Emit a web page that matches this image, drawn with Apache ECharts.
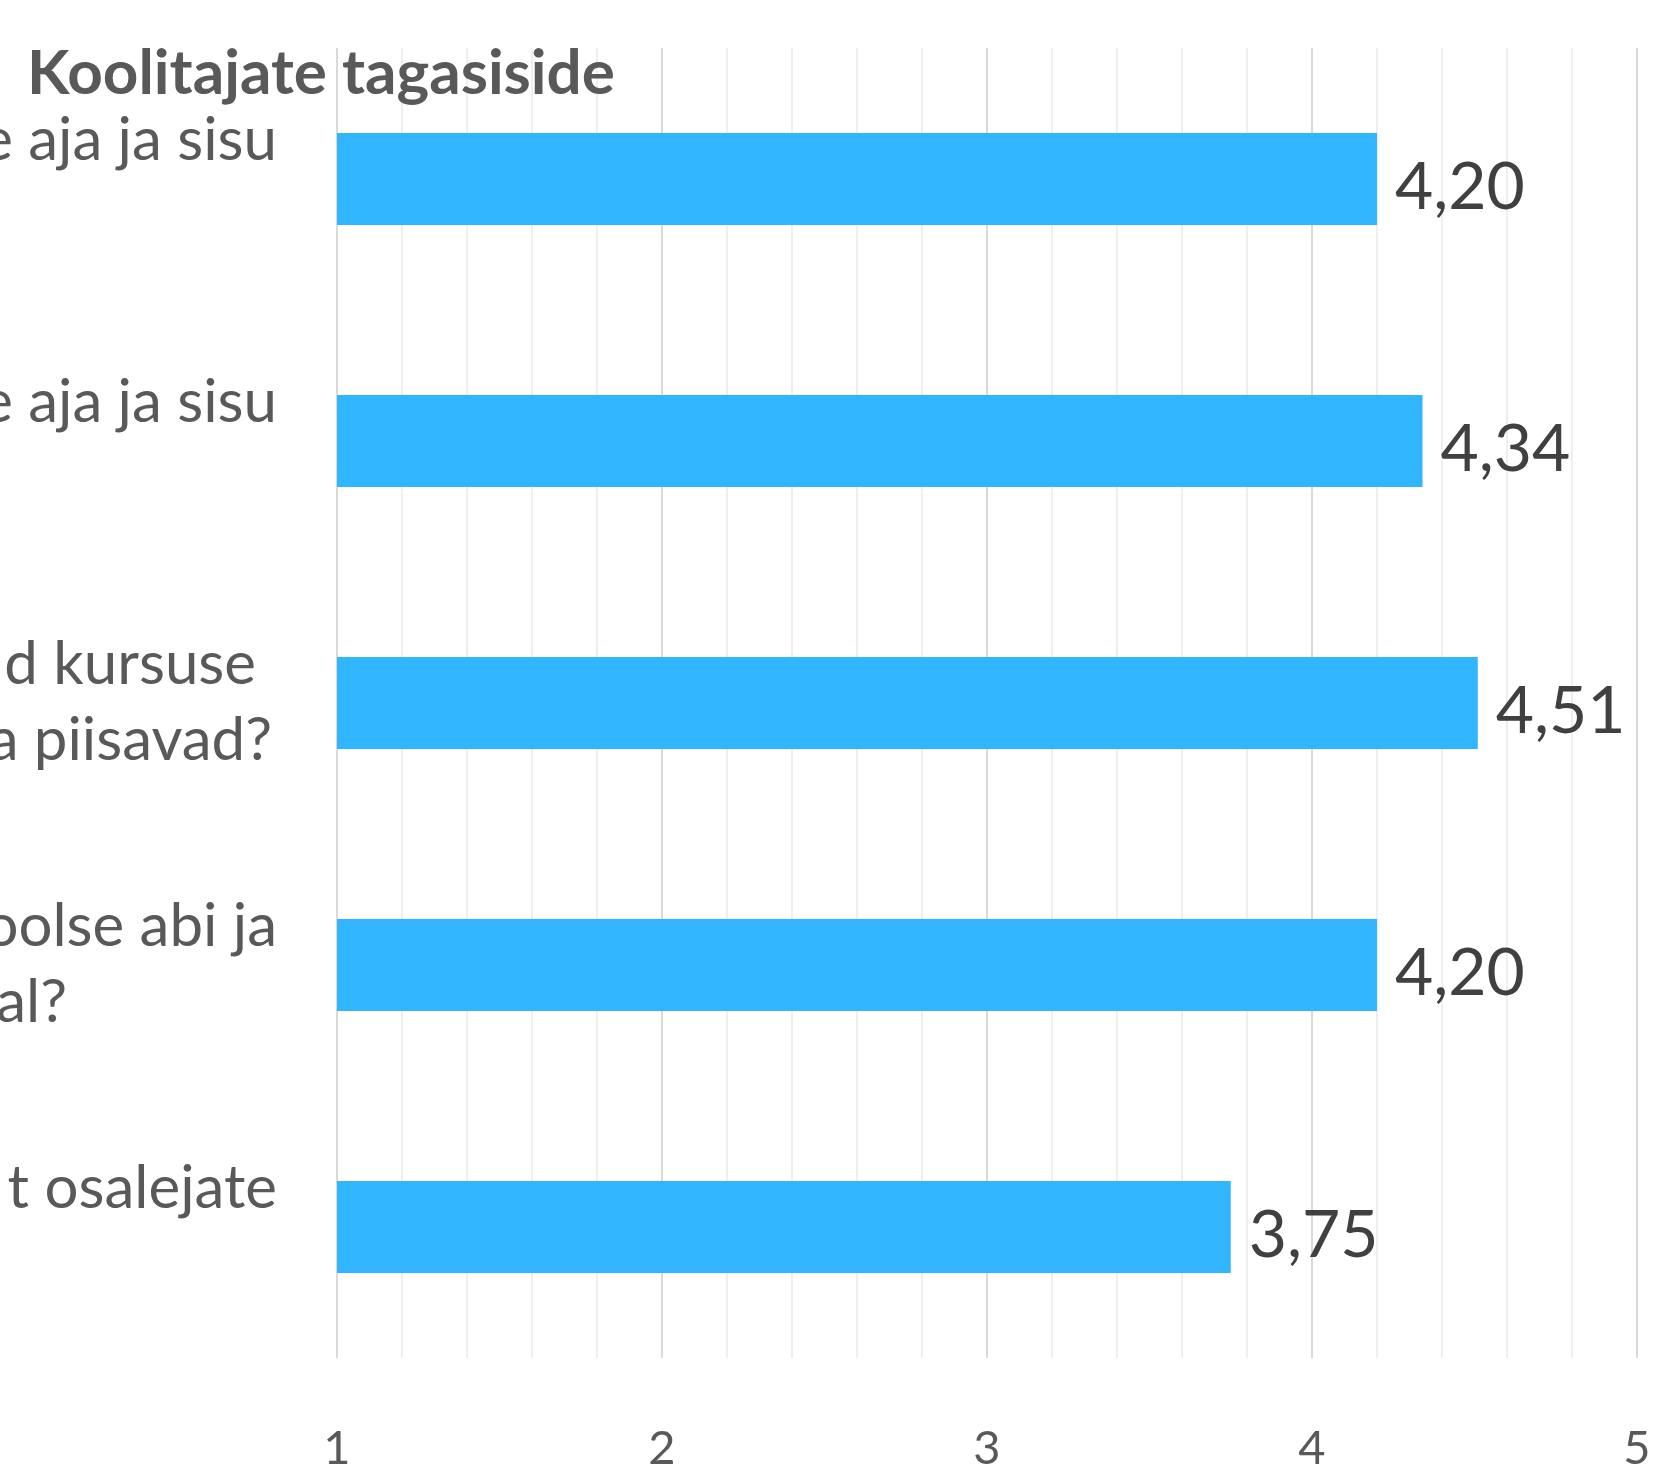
<!DOCTYPE html>
<html>
<head>
<meta charset="utf-8">
<script src="https://cdn.jsdelivr.net/npm/echarts@6/dist/echarts.min.js"></script>
<style>
  html, body { margin: 0; padding: 0; background: #ffffff; }
  #chart { width: 1661px; height: 1467px; }
</style>
</head>
<body>
<div id="chart"></div>
<script>
// ---- data ----
const titleText = 'Koolitajate tagasiside';
const categories = [
  'e aja ja sisu\n ',
  'e aja ja sisu\n ',
  'd kursuse\na piisavad?',
  'oolse abi ja\nal?',
  't osalejate\n '
];
const values = [4.20, 4.34, 4.51, 4.20, 3.75];
const axisMin = 1;
const axisMax = 5;
const axisStep = 1;

// ---- chart ----
const chart = echarts.init(document.getElementById('chart'), null, { renderer: 'canvas' });

const lineRich = {
  base: { fontFamily: 'Lato', fontSize: 60, color: '#595959', lineHeight: 76, align: 'right' },
  l2_0: { fontFamily: 'Lato', fontSize: 60, color: '#595959', lineHeight: 76, align: 'right', padding: [0, 21, 0, 0] },
  l2_1: { fontFamily: 'Lato', fontSize: 60, color: '#595959', lineHeight: 76, align: 'right', padding: [0, 5, 0, 0] },
  l3_1: { fontFamily: 'Lato', fontSize: 60, color: '#595959', lineHeight: 76, align: 'right', padding: [0, 210, 0, 0] }
};

const option = {
  backgroundColor: '#ffffff',
  animation: false,
  title: {
    text: titleText,
    left: 27,
    top: 43,
    padding: 0,
    textStyle: { fontFamily: 'Lato', fontWeight: 'bold', fontSize: 62, color: '#595959', lineHeight: 62 }
  },
  grid: { left: 337, right: 24, top: 48, bottom: 109, containLabel: false, outerBoundsMode: 'none' },
  xAxis: {
    type: 'value',
    min: axisMin,
    max: axisMax,
    interval: axisStep,
    axisLine: { show: false },
    axisTick: { show: false },
    splitLine: { show: true, lineStyle: { color: '#d9d9d9', width: 2 } },
    minorTick: { show: false, splitNumber: 5 },
    minorSplitLine: { show: true, lineStyle: { color: '#efefef', width: 2 } },
    axisLabel: {
      margin: 67,
      fontFamily: 'Lato',
      fontSize: 47,
      lineHeight: 47,
      color: '#595959'
    }
  },
  yAxis: {
    type: 'category',
    data: categories,
    inverse: true,
    axisLine: { show: false },
    axisTick: { show: false },
    splitLine: { show: false },
    axisLabel: {
      margin: 60,
      align: 'right',
      formatter: function (value, idx) {
        return value.split('\n').map(function (line, li) {
          const key = 'l' + idx + '_' + li;
          return '{' + (lineRich[key] ? key : 'base') + '|' + line + '}';
        }).join('\n');
      },
      rich: lineRich
    }
  },
  series: [{
    type: 'bar',
    data: values,
    barWidth: 92,
    itemStyle: { color: '#32b5ff' },
    label: {
      show: true,
      position: 'right',
      distance: 18,
      offset: [0, 9],
      fontFamily: 'Lato',
      fontSize: 66,
      color: '#404040',
      formatter: function (p) { return p.value.toFixed(2).replace('.', ','); }
    }
  }]
};

chart.setOption(option);
</script>
</body>
</html>
